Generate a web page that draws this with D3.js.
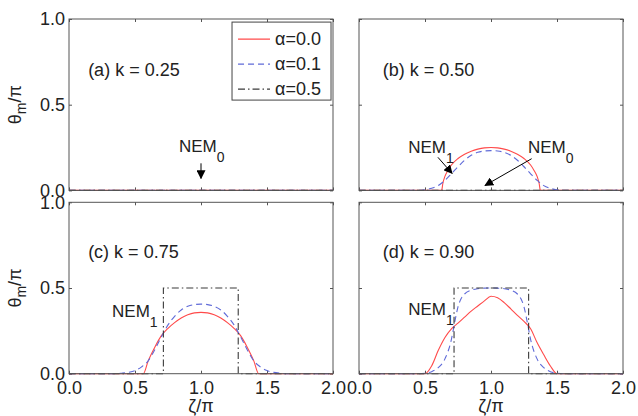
<!DOCTYPE html>
<html>
<head>
<meta charset="utf-8">
<script src="https://cdn.jsdelivr.net/npm/d3@7"></script>
<style>
  html, body { margin: 0; padding: 0; background: #fff; }
  svg { display: block; }
  text { font-family: "Liberation Sans", Arial, sans-serif; fill: #222; }
</style>
</head>
<body>
<svg id="chart" width="638" height="416"></svg>
<script>
// ---------- data ----------
const xTicks = [0, 0.5, 1.0, 1.5, 2.0];
const yTicks = [0, 0.5, 1.0];
const legendLabels = ["α=0.0", "α=0.1", "α=0.5"];
const panelLabels = ["(a) k = 0.25", "(b) k = 0.50", "(c) k = 0.75", "(d) k = 0.90"];

// panel (a) k=0.25 : all flat
const aRed   = [[0, 0], [2, 0]];
const aBlue  = [[0, 0], [2, 0]];
const aBlack = [[0, 0], [2, 0]];

// panel (b) k=0.50
const bRed = [[0,0],[0.626,0],[0.635,0.04],[0.65,0.08],[0.675,0.118],[0.7,0.148],[0.75,0.186],[0.8,0.211],[0.85,0.229],[0.9,0.241],[0.95,0.248],[1.0,0.25],[1.05,0.248],[1.1,0.241],[1.15,0.229],[1.2,0.211],[1.25,0.186],[1.3,0.148],[1.325,0.118],[1.35,0.08],[1.365,0.04],[1.374,0],[2,0]];
const bBlue = [[0,0],[0.45,0],[0.5,0.004],[0.55,0.012],[0.6,0.028],[0.65,0.058],[0.7,0.097],[0.75,0.138],[0.8,0.176],[0.85,0.205],[0.9,0.222],[0.95,0.23],[1.0,0.232],[1.05,0.23],[1.1,0.222],[1.15,0.205],[1.2,0.176],[1.25,0.138],[1.3,0.097],[1.35,0.058],[1.4,0.028],[1.45,0.012],[1.5,0.004],[1.55,0],[2,0]];
const bBlack = [[0, 0], [2, 0]];

// panel (c) k=0.75
const cRed = [[0,0],[0.563,0],[0.6,0.075],[0.65,0.155],[0.7,0.222],[0.75,0.265],[0.8,0.298],[0.85,0.325],[0.9,0.344],[0.95,0.355],[1.0,0.358],[1.05,0.355],[1.1,0.344],[1.15,0.325],[1.2,0.298],[1.25,0.265],[1.3,0.222],[1.35,0.155],[1.4,0.075],[1.437,0],[2,0]];
const cBlue = [[0,0],[0.35,0],[0.4,0.003],[0.45,0.008],[0.5,0.018],[0.55,0.04],[0.6,0.075],[0.65,0.14],[0.7,0.215],[0.75,0.285],[0.8,0.335],[0.85,0.372],[0.9,0.393],[0.95,0.403],[1.0,0.406],[1.05,0.403],[1.1,0.393],[1.15,0.372],[1.2,0.335],[1.25,0.285],[1.3,0.215],[1.35,0.14],[1.4,0.075],[1.45,0.04],[1.5,0.018],[1.55,0.008],[1.6,0.003],[1.65,0],[2,0]];
const cBlack = [[0,0],[0.715,0],[0.715,0.5],[1.282,0.5],[1.282,0],[2,0]];

// panel (d) k=0.90
const dRed = [[0,0],[0.5,0],[0.55,0.045],[0.6,0.135],[0.65,0.21],[0.7,0.262],[0.75,0.295],[0.8,0.33],[0.85,0.365],[0.9,0.395],[0.95,0.425],[1.0,0.452],[1.05,0.443],[1.1,0.415],[1.15,0.378],[1.2,0.34],[1.25,0.305],[1.3,0.262],[1.35,0.18],[1.4,0.11],[1.45,0.045],[1.5,0],[2,0]];
const dBlue = [[0,0],[0.45,0],[0.5,0.003],[0.55,0.012],[0.6,0.035],[0.65,0.085],[0.7,0.2],[0.725,0.3],[0.75,0.39],[0.775,0.44],[0.8,0.465],[0.85,0.487],[0.9,0.496],[0.95,0.499],[1.0,0.5],[1.05,0.499],[1.1,0.496],[1.15,0.487],[1.2,0.465],[1.225,0.44],[1.25,0.39],[1.275,0.3],[1.3,0.2],[1.35,0.085],[1.4,0.035],[1.45,0.012],[1.5,0.003],[1.55,0],[2,0]];
const dBlack = [[0,0],[0.72,0],[0.72,0.5],[1.285,0.5],[1.285,0],[2,0]];

// panel label anchors (data units: left, baseline)
const labelAt = [[0.145, 0.667], [0.18, 0.667], [0.145, 0.673], [0.18, 0.673]];

// annotations in data units: text position (left, baseline), subscript, optional arrows [from, to]
const annA = [{text: "NEM", sub: "0", at: [0.833, 0.222], arrows: [[[1.0, 0.158], [1.0, 0.07]]]}];
const annB = [
  {text: "NEM", sub: "1", at: [0.373, 0.216], arrows: [[[0.598, 0.193], [0.705, 0.099]]]},
  {text: "NEM", sub: "0", at: [1.28, 0.216], arrows: [[[1.308, 0.185], [0.955, 0.029]]]}
];
const annC = [{text: "NEM", sub: "1", at: [0.326, 0.333], arrows: []}];
const annD = [{text: "NEM", sub: "1", at: [0.373, 0.342], arrows: []}];

// ---------- styles ----------
const seriesStyle = [
  {color: "#ff4a4a", dash: null},
  {color: "#5f6ad8", dash: "6,4"},
  {color: "#3a3a3a", dash: "7,3,1.5,3"}
];

const panels = [
  {label: panelLabels[0], series: [aRed, aBlue, aBlack], ann: annA, col: 0, row: 0},
  {label: panelLabels[1], series: [bRed, bBlue, bBlack], ann: annB, col: 1, row: 0},
  {label: panelLabels[2], series: [cRed, cBlue, cBlack], ann: annC, col: 0, row: 1},
  {label: panelLabels[3], series: [dRed, dBlue, dBlack], ann: annD, col: 1, row: 1}
];

// ---------- layout ----------
const colLeft = [69, 359];
const rowTop = [19, 202.3];
const pw = 264, ph = 171.4;
const FS = 18;
const FS_ANN = 17;

const svg = d3.select("#chart");

svg.append("defs").append("marker")
  .attr("id", "arrowhead")
  .attr("viewBox", "0 0 10 10")
  .attr("refX", 9).attr("refY", 5)
  .attr("markerWidth", 9).attr("markerHeight", 9)
  .attr("markerUnits", "userSpaceOnUse")
  .attr("orient", "auto")
  .append("path").attr("d", "M0,0 L10,5 L0,10 z").attr("fill", "#000");

panels.forEach((p, pi) => {
  const x0 = colLeft[p.col], y0 = rowTop[p.row];
  const x = d3.scaleLinear().domain([0, 2]).range([x0, x0 + pw]);
  const y = d3.scaleLinear().domain([0, 1]).range([y0 + ph, y0]);
  const g = svg.append("g");

  // axes (ticks inward, MATLAB style box)
  const fmt = d3.format(".1f");
  const bottom = d3.axisBottom(x).tickValues(xTicks).tickSizeInner(-3).tickSizeOuter(0).tickPadding(8)
      .tickFormat(p.row === 1 ? fmt : () => "");
  const top = d3.axisTop(x).tickValues(xTicks).tickSizeInner(-3).tickSizeOuter(0).tickFormat(() => "");
  const left = d3.axisLeft(y).tickValues(yTicks).tickSizeInner(-3).tickSizeOuter(0).tickPadding(4)
      .tickFormat(p.col === 0 ? fmt : () => "");
  const right = d3.axisRight(y).tickValues(yTicks).tickSizeInner(-3).tickSizeOuter(0).tickFormat(() => "");

  [[bottom, `translate(0,${y0 + ph})`], [top, `translate(0,${y0})`],
   [left, `translate(${x0},0)`], [right, `translate(${x0 + pw},0)`]].forEach(([ax, tr]) => {
    const a = g.append("g").attr("transform", tr).call(ax);
    a.select(".domain").remove();
    a.selectAll(".tick line").attr("stroke", "#555");
    a.selectAll("text").attr("font-size", FS).attr("fill", "#222")
      .attr("font-family", '"Liberation Sans", Arial, sans-serif');
  });

  // lines
  const line = d3.line().x(d => x(d[0])).y(d => y(d[1]));
  p.series.forEach((s, i) => {
    const st = seriesStyle[i];
    const curve = i === 2 ? d3.curveLinear : d3.curveMonotoneX;
    g.append("path").datum(s)
      .attr("d", line.curve(curve))
      .attr("fill", "none")
      .attr("stroke", st.color)
      .attr("stroke-width", 1.1)
      .attr("stroke-dasharray", st.dash);
  });

  // box
  g.append("rect").attr("x", x0).attr("y", y0).attr("width", pw).attr("height", ph)
    .attr("fill", "none").attr("stroke", "#555").attr("stroke-width", 1);

  // panel label
  g.append("text").attr("x", x(labelAt[pi][0])).attr("y", y(labelAt[pi][1]))
    .attr("font-size", FS).text(p.label);

  // annotations
  p.ann.forEach(a => {
    const t = g.append("text").attr("x", x(a.at[0])).attr("y", y(a.at[1])).attr("font-size", FS_ANN);
    t.append("tspan").text(a.text);
    t.append("tspan").attr("dy", 10).attr("font-size", 14).text(a.sub);
    a.arrows.forEach(ar => {
      g.append("line")
        .attr("x1", x(ar[0][0])).attr("y1", y(ar[0][1]))
        .attr("x2", x(ar[1][0])).attr("y2", y(ar[1][1]))
        .attr("stroke", "#000").attr("stroke-width", 1)
        .attr("marker-end", "url(#arrowhead)");
    });
  });

  // axis titles
  if (p.col === 0) {
    const yl = svg.append("text")
      .attr("transform", `translate(21,${y0 + ph / 2}) rotate(-90)`)
      .attr("text-anchor", "middle").attr("font-size", FS);
    yl.append("tspan").text("θ");
    yl.append("tspan").attr("dy", 5).attr("font-size", 14).text("m");
    yl.append("tspan").attr("dy", -5).text("/π");
  }
  if (p.row === 1) {
    svg.append("text").attr("x", x(1)).attr("y", y0 + ph + 38)
      .attr("text-anchor", "middle").attr("font-size", FS).text("ζ/π");
  }

  // legend in panel (a)
  if (p.col === 0 && p.row === 0) {
    const lx = x(1.235), ly = y(0.982);
    const lg = svg.append("g");
    lg.append("rect").attr("x", lx).attr("y", ly).attr("width", 99).attr("height", 78)
      .attr("fill", "#fff").attr("stroke", "#444");
    legendLabels.forEach((lab, i) => {
      const yy = ly + 17 + i * 25;
      lg.append("line").attr("x1", lx + 6).attr("x2", lx + 38).attr("y1", yy).attr("y2", yy)
        .attr("stroke", seriesStyle[i].color).attr("stroke-width", 1.1)
        .attr("stroke-dasharray", seriesStyle[i].dash);
      lg.append("text").attr("x", lx + 43).attr("y", yy + 6).attr("font-size", FS).text(lab);
    });
  }
});
</script>
</body>
</html>
